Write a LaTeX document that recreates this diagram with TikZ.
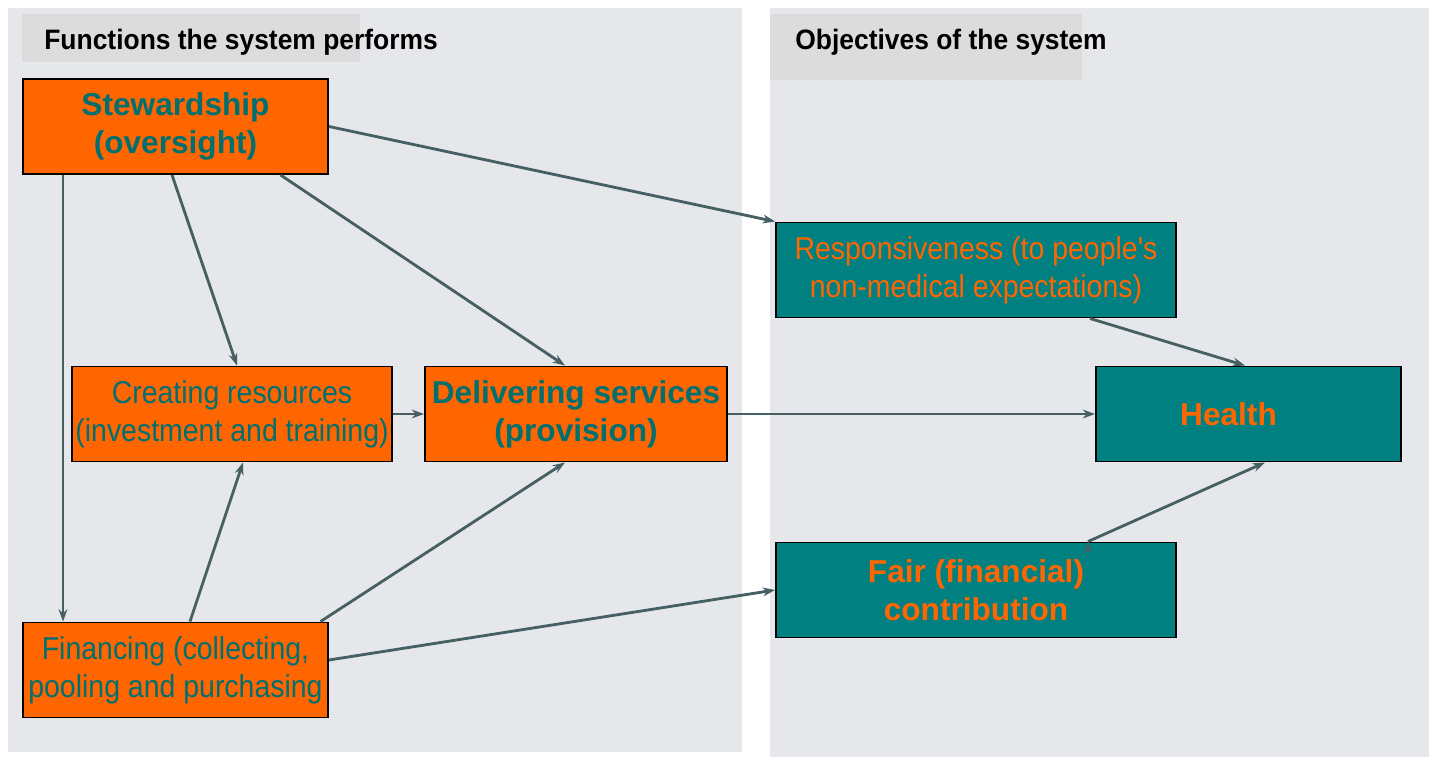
\documentclass[tikz,border=0pt]{standalone}
\usepackage{fontspec}
\setmainfont{Liberation Sans}
\newfontfamily\narrowfont[FakeStretch=0.9]{Liberation Sans}
\newfontfamily\headfont[FakeStretch=0.94]{Liberation Sans}
\newcommand\boxfont{\narrowfont\fontsize{18}{21.5}\selectfont}
\newcommand\boldboxfont{\fontsize{18}{21.5}\selectfont\bfseries}
\usetikzlibrary{arrows.meta}
\definecolor{boxorange}{HTML}{FF6600}
\definecolor{boxteal}{HTML}{008080}
\definecolor{textteal}{HTML}{006F6F}
\definecolor{linkgray}{HTML}{455F63}
\definecolor{panelgray}{HTML}{E6E7EA}
\definecolor{headgray}{HTML}{DCDCDC}
\begin{document}
\begin{tikzpicture}[x=0.02cm,y=-0.02cm,
    fun node/.style={rectangle,draw=black,line width=1.1pt,fill=boxorange,text=textteal,
      minimum width=6.1cm,minimum height=1.9cm,inner sep=0pt,align=center,font=\boxfont},
    goal node/.style={fun node,fill=boxteal,text=boxorange},
    head/.style={anchor=west,inner sep=0pt,font=\headfont\bfseries\fontsize{16}{19}\selectfont},
    link/.style={-{Stealth[length=7pt,width=5pt]},line width=1.6pt,draw=linkgray}]
  \useasboundingbox (0,0) rectangle (1429,757);
  \fill[white] (0,0) rectangle (1429,757);
  \fill[panelgray] (8,8) rectangle (742,752);
  \fill[panelgray] (770,8) rectangle (1429,757);
  \fill[headgray] (22,14) rectangle (360,62);
  \fill[headgray] (770,14) rectangle (1082,80);

  \path (44,42)  node[head] (fhead) {Functions the system performs}
        (795,42) node[head] (ohead) {Objectives of the system};

  \path (175.5,126.5) node[fun node,font=\boldboxfont] (stew) {Stewardship\\(oversight)}
        (232,414)     node[fun node,minimum width=6.4cm] (create) {Creating resources\\(investment and training)}
        (576,414)     node[fun node,minimum width=6.04cm,font=\boldboxfont] (deliver) {Delivering services\\(provision)}
        (175.5,670)   node[fun node] (fin) {Financing (collecting,\\pooling and purchasing}
        (976,270)     node[goal node,minimum width=8cm] (resp) {Responsiveness (to people's\\non-medical expectations)}
        (1248.5,414)  node[goal node,font=\boldboxfont] (health) {Health\hspace{0.8cm}}
        (976,590)     node[goal node,minimum width=8cm,font=\boldboxfont] (fair) {Fair (financial)\\contribution};

  \path[link]
        (stew.east) edge (resp.north west)
        ([xshift=-0.07cm]stew.south) edge ([xshift=0.1cm]create.north)
        ([xshift=2.1cm]stew.south) edge ([xshift=-0.22cm]deliver.north)
        ([xshift=-2.25cm]stew.south) edge ([xshift=-2.25cm]fin.north)
        ([xshift=0.29cm]fin.north) edge ([xshift=0.22cm]create.south)
        ([xshift=2.9cm]fin.north) edge ([xshift=-0.22cm]deliver.south)
        ([yshift=0.2cm]fin.east) edge (fair.west)
        (create.east) edge (deliver.west)
        (deliver.east) edge (health.west)
        ([xshift=2.28cm]resp.south) edge ([xshift=-0.07cm]health.north)
        ([xshift=2.24cm]fair.north) edge ([xshift=0.33cm]health.south);
\end{tikzpicture}
\end{document}
